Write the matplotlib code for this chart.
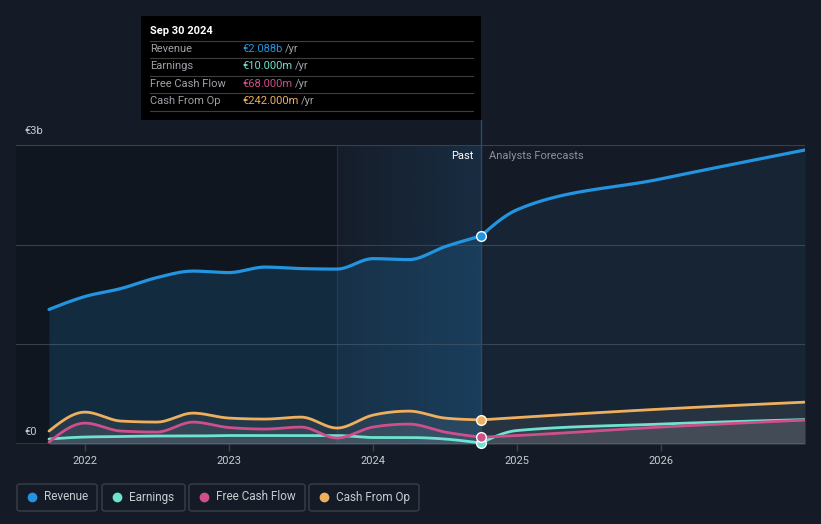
import numpy as np
import matplotlib
matplotlib.use('Agg')
import matplotlib.pyplot as plt
from matplotlib.patches import Rectangle, FancyBboxPatch
from matplotlib.lines import Line2D
from matplotlib.colors import to_rgb

plt.rcParams['font.family'] = ['Roboto', 'DejaVu Sans']

# ---- data (billions EUR) ----
past_x = [2021.75, 2022.0, 2022.25, 2022.5, 2022.75, 2023.0, 2023.25,
          2023.5, 2023.75, 2024.0, 2024.25, 2024.5, 2024.75]
rev_past = [1.35, 1.48, 1.56, 1.67, 1.735, 1.72, 1.775, 1.76, 1.755, 1.86, 1.85, 1.98, 2.088]
earn_past = [0.05, 0.07, 0.075, 0.08, 0.08, 0.085, 0.085, 0.085, 0.085, 0.065, 0.065, 0.05, 0.010]
fcf_past = [0.02, 0.21, 0.13, 0.12, 0.22, 0.165, 0.15, 0.17, 0.06, 0.17, 0.20, 0.12, 0.068]
cfo_past = [0.13, 0.32, 0.23, 0.22, 0.31, 0.26, 0.25, 0.27, 0.16, 0.29, 0.33, 0.26, 0.242]

fc_x = [2024.75, 2025.0, 2026.0, 2027.0]
rev_fc = [2.088, 2.35, 2.66, 2.95]
earn_fc = [0.010, 0.135, 0.20, 0.245]
fcf_fc = [0.068, 0.085, 0.17, 0.24]
cfo_fc = [0.242, 0.265, 0.35, 0.42]

years = [2022, 2023, 2024, 2025, 2026]
names = ['Revenue', 'Earnings', 'Free Cash Flow', 'Cash From Op']
tip_vals = ['€2.088b', '€10.000m', '€68.000m', '€242.000m']
colors = ['#2394df', '#6fe3cf', '#cf4f8c', '#eeb05f']

BG = '#151b26'
W, H = 821, 524


def monotone(x, y, n=24):
    # monotone cubic curve (like d3 curveMonotoneX), only for drawing
    x = np.asarray(x, float); y = np.asarray(y, float)
    h = np.diff(x); s = np.diff(y) / h
    m = np.zeros_like(y)
    for i in range(1, len(y) - 1):
        p = (s[i-1]*h[i] + s[i]*h[i-1]) / (h[i-1] + h[i])
        m[i] = (np.sign(s[i-1]) + np.sign(s[i])) * min(abs(s[i-1]), abs(s[i]), 0.5*abs(p))
    if len(y) > 2:
        m[0] = (3*s[0] - m[1]) / 2
        m[-1] = (3*s[-1] - m[-2]) / 2
    else:
        m[0] = m[-1] = s[0]
    xs, ys = [], []
    for i in range(len(h)):
        t = np.linspace(0, 1, n, endpoint=(i == len(h)-1))
        h00 = 2*t**3 - 3*t**2 + 1; h10 = t**3 - 2*t**2 + t
        h01 = -2*t**3 + 3*t**2; h11 = t**3 - t**2
        xs.append(x[i] + t*h[i])
        ys.append(h00*y[i] + h10*h[i]*m[i] + h01*y[i+1] + h11*h[i]*m[i+1])
    return np.concatenate(xs), np.concatenate(ys)


def fx(px):
    return px / W


def fy(py):
    return 1 - py / H


fig = plt.figure(figsize=(8.21, 5.24), dpi=100, facecolor=BG)
ax = fig.add_axes([fx(16), fy(444), fx(805) - fx(16), fy(145) - fy(444)])
ax.set_facecolor(BG)
ax.set_xlim(2022 - 69/144, 2027.0)
ax.set_ylim(0, 3.0)
for sp in ax.spines.values():
    sp.set_visible(False)

# darker past area, gradient band for the last year
ax.axvspan(2022 - 69/144, 2023.75, color='#0c1017', alpha=0.45, lw=0, zorder=0)
grad = np.zeros((2, 200, 4))
grad[..., :3] = to_rgb('#1f4a70')
grad[..., 3] = np.linspace(0.05, 0.38, 200)
ax.imshow(grad, extent=[2023.75, 2024.75, 0, 3.0], aspect='auto', origin='lower',
          interpolation='bilinear', zorder=0)
ax.axvline(2023.75, color='#1c3148', lw=0.8, zorder=0)

# grid lines
for g in [1, 2, 3]:
    ax.axhline(g, color='#3a404b', lw=0.8, zorder=1)
ax.axhline(0, color='#3a404b', lw=1.2, zorder=1)

# revenue
rx, ry = monotone(past_x, rev_past)
ax.fill_between(rx, 0, ry, color='#2394df', alpha=0.17, lw=0, zorder=2)
ax.plot(rx, ry, color=colors[0], lw=2.3, zorder=5, solid_capstyle='round')
fx_, fy_ = monotone(fc_x, rev_fc)
ax.fill_between(fx_, 0, fy_, color='#2394df', alpha=0.08, lw=0, zorder=2)
ax.plot(fx_, fy_, color=colors[0], lw=2.3, zorder=5, solid_capstyle='round')

# the three small series
small = [(earn_past, earn_fc, colors[1]), (fcf_past, fcf_fc, colors[2]), (cfo_past, cfo_fc, colors[3])]
for past, fc, c in small:
    for xx, yy in [(past_x, past), (fc_x, fc)]:
        sx, sy = monotone(xx, yy)
        ax.fill_between(sx, 0, sy, color='#9a9a9a', alpha=0.13, lw=0, zorder=3)
        ax.plot(sx, sy, color=c, lw=2.0, zorder=6, solid_capstyle='round')

# markers at Sep 30 2024
for v, c in zip([rev_past[-1], earn_past[-1], fcf_past[-1], cfo_past[-1]], colors):
    ax.plot([2024.75], [v], 'o', ms=7, color=c, mec='white', mew=1.0, zorder=8, clip_on=False)

# vertical cursor line
ax.plot([2024.75, 2024.75], [0, 3.25], color='#2c4a68', lw=1, zorder=4, clip_on=False)

# ticks
ax.set_xticks(years)
ax.set_xticklabels([str(y) for y in years])
ax.tick_params(axis='x', colors='#3a404b', length=5, width=1, labelcolor='#c8cbd0', labelsize=8, pad=4)
ax.set_yticks([])

# y labels
fig.text(fx(24), fy(131), '€3b', color='#c8cbd0', fontsize=8, va='center', ha='left')
fig.text(fx(24), fy(432), '€0', color='#c8cbd0', fontsize=8, va='center', ha='left')

# past / forecast labels
fig.text(fx(473), fy(156), 'Past', color='#ffffff', fontsize=8, va='center', ha='right')
fig.text(fx(489), fy(156), 'Analysts Forecasts', color='#8d929a', fontsize=8, va='center', ha='left')

# tooltip
fig.add_artist(Rectangle((fx(141), fy(120)), fx(481) - fx(141), fy(16) - fy(120),
                         transform=fig.transFigure, facecolor='#000000', edgecolor='none', zorder=10))
fig.text(fx(150), fy(31), 'Sep 30 2024', color='white', fontsize=8, fontweight='bold',
         va='center', ha='left', zorder=11)
row_y = [49, 66, 84, 101]
for sep in [41, 58, 76, 93, 111]:
    fig.add_artist(Line2D([fx(150), fx(473)], [fy(sep), fy(sep)], transform=fig.transFigure,
                          color='#3d3d3d', lw=0.8, zorder=11))
for yy, nm, val, c in zip(row_y, names, tip_vals, colors):
    fig.text(fx(150), fy(yy), nm, color='#9ea2a8', fontsize=8, va='center', ha='left', zorder=11)
    t = fig.text(fx(242), fy(yy), val, color=c, fontsize=8, va='center', ha='left', zorder=11)
    fig.canvas.draw()
    bb = t.get_window_extent()
    fig.text(bb.x1 / W + 3/W, fy(yy), '/yr', color='#9ea2a8', fontsize=8, va='center', ha='left', zorder=11)

# legend boxes
boxes = [(17, 97), (102, 185), (189, 305), (309, 419)]
for (x0, x1), nm, c in zip(boxes, names, colors):
    fig.add_artist(FancyBboxPatch((fx(x0), fy(511)), fx(x1) - fx(x0), fy(484) - fy(511),
                                  boxstyle='round,pad=0,rounding_size=0.004', transform=fig.transFigure,
                                  facecolor='none', edgecolor='#3a3f48', lw=1))
    fig.add_artist(Line2D([fx(x0 + 15)], [fy(497)], marker='o', ms=6, color=c, lw=0,
                          transform=fig.transFigure))
    fig.text(fx(x0 + 27), fy(497), nm, color='#c8cbd0', fontsize=8.5, va='center', ha='left')

fig.savefig('out.png', dpi=100, facecolor=BG)
